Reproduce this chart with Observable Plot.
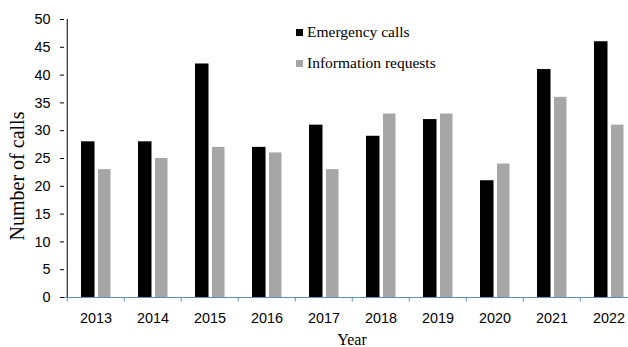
<!DOCTYPE html>
<html>
<head>
<meta charset="utf-8">
<script src="https://cdn.jsdelivr.net/npm/d3@7"></script>
<script src="https://cdn.jsdelivr.net/npm/@observablehq/plot@0.6"></script>
<style>
  html, body { margin: 0; padding: 0; background: #fff; }
  #wrap { position: relative; width: 628px; height: 347px; overflow: hidden; }
  #legend { position: absolute; left: 296px; top: 22px; font-family: "Liberation Serif", serif; font-size: 15.5px; color: #000; }
  .item { display: flex; align-items: center; height: 20px; margin-bottom: 11px; }
  .sw { width: 7px; height: 7px; margin-right: 4px; }
  .title { position: absolute; font-family: "Liberation Serif", serif; color: #000; white-space: nowrap; line-height: 1; }
  #ytitle { left: 17px; top: 176px; font-size: 20px; transform: translate(-50%, -50%) rotate(-90deg); }
  #xtitle { left: 352px; top: 340px; font-size: 16px; line-height: 0.8; transform: translate(-50%, -50%); }
</style>
</head>
<body>
<div id="wrap">
  <div id="legend"></div>
  <div class="title" id="ytitle"></div>
  <div class="title" id="xtitle"></div>
</div>
<script>
const years = ["2013","2014","2015","2016","2017","2018","2019","2020","2021","2022"];
const emergency = [28, 28, 42, 27, 31, 29, 32, 21, 41, 46];
const info = [23, 25, 27, 26, 23, 33, 33, 24, 36, 31];
const yTicks = [0, 5, 10, 15, 20, 25, 30, 35, 40, 45, 50];
const seriesNames = ["Emergency calls", "Information requests"];
const seriesColors = ["#000000", "#a6a6a6"];
const xTitle = "Year";
const yTitle = "Number of calls";

const data = years.map((y, i) => ({year: y, emergency: emergency[i], info: info[i]}));
const blue = "#5b8fbd";
const half = 28.75;

const chart = Plot.plot({
  width: 628,
  height: 347,
  marginLeft: 64,
  marginRight: -11.5,
  marginTop: 19,
  marginBottom: 50,
  x: {domain: years, padding: 0, axis: null, label: null},
  y: {domain: [0, 50], axis: null, label: null},
  style: {fontFamily: "'Liberation Sans', Arial, sans-serif", fontSize: "14.4px", background: "white", color: "black", overflow: "hidden"},
  marks: [
    Plot.barY(data, {x: "year", y: "emergency", fill: seriesColors[0], insetLeft: 14, insetRight: 29.5}),
    Plot.barY(data, {x: "year", y: "info", fill: seriesColors[1], insetLeft: 31, insetRight: 13.5}),
    Plot.axisY({ticks: yTicks, tickSize: 4, tickPadding: 10, label: null, stroke: "black"}),
    Plot.axisX({tickSize: 0, tickPadding: 15, label: null}),
    Plot.ruleY([0], {stroke: blue, strokeWidth: 1}),
    Plot.ruleX(years, {x: d => d, y1: 0, y2: -0.8, dx: -half, stroke: blue}),
    Plot.ruleX([years[0]], {x: d => d, y1: 0, y2: 50, dx: -half, stroke: "black"})
  ]
});

const wrap = document.getElementById("wrap");
wrap.insertBefore(chart, wrap.firstChild);
document.getElementById("xtitle").textContent = xTitle;
document.getElementById("ytitle").textContent = yTitle;

const legend = document.getElementById("legend");
seriesNames.forEach((name, i) => {
  const item = document.createElement("div");
  item.className = "item";
  const sw = document.createElement("span");
  sw.className = "sw";
  sw.style.background = seriesColors[i];
  const t = document.createElement("span");
  t.textContent = name;
  item.appendChild(sw);
  item.appendChild(t);
  legend.appendChild(item);
});
</script>
</body>
</html>
